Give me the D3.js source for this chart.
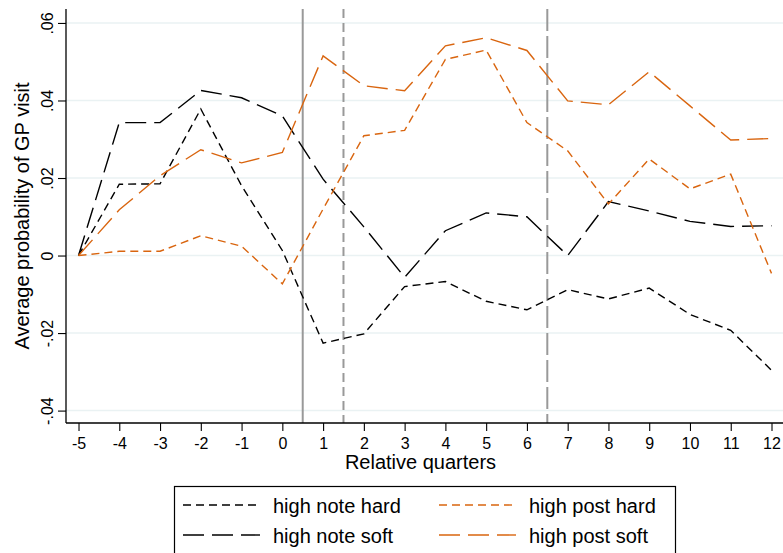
<!DOCTYPE html>
<html>
<head>
<meta charset="utf-8">
<script src="https://cdn.jsdelivr.net/npm/d3@7"></script>
<style>
html,body{margin:0;padding:0;background:#fff;}
svg{display:block;font-family:"Liberation Sans",Arial,Helvetica,sans-serif;}
</style>
</head>
<body>
<svg id="chart" width="783" height="553"></svg>
<script>
// ---- data ----
const quarters = [-5,-4,-3,-2,-1,0,1,2,3,4,5,6,7,8,9,10,11,12];
const highNoteHard = [0,0.0184,0.0185,0.0378,0.0180,0.0013,-0.0226,-0.0202,-0.0080,-0.0067,-0.0118,-0.0140,-0.0088,-0.0112,-0.0084,-0.0152,-0.0193,-0.0296];
const highNoteSoft = [0,0.0343,0.0343,0.0426,0.0407,0.0360,0.0197,0.0074,-0.0056,0.0064,0.0110,0.0100,0.0000,0.0139,0.0115,0.0088,0.0075,0.0077];
const highPostHard = [0,0.0011,0.0011,0.0051,0.0024,-0.0073,0.0120,0.0309,0.0323,0.0506,0.0530,0.0343,0.0270,0.0133,0.0249,0.0172,0.0210,-0.0046];
const highPostSoft = [0,0.0118,0.0206,0.0273,0.0239,0.0266,0.0515,0.0438,0.0425,0.0541,0.0562,0.0529,0.0399,0.0389,0.0474,0.0386,0.0298,0.0302];
const yTicks = [-0.04,-0.02,0,0.02,0.04,0.06];
const yTickLabels = ["-.04","-.02","0",".02",".04",".06"];
const xTicks = quarters;
const xTickLabels = ["-5","-4","-3","-2","-1","0","1","2","3","4","5","6","7","8","9","10","11","12"];
const refLines = [0.5,1.5,6.5];
const seriesNames = ["high note hard","high note soft","high post hard","high post soft"];

// ---- layout ----
const svg = d3.select("#chart");
const L = 66, R = 783, T = 9, B = 423;
const x = d3.scaleLinear().domain([-5.307, 12.282]).range([L, R]);
const y = d3.scaleLinear().domain([-0.0432, 0.0636]).range([B, T]);

const ORANGE = "#d9650f";
const SHORT = "8,5", LONG = "21,8";
const series = [
  {name: seriesNames[0], values: highNoteHard, color: "#000", dash: SHORT},
  {name: seriesNames[1], values: highNoteSoft, color: "#000", dash: LONG},
  {name: seriesNames[2], values: highPostHard, color: ORANGE, dash: SHORT},
  {name: seriesNames[3], values: highPostSoft, color: ORANGE, dash: LONG}
];

// gridlines
svg.append("g").selectAll("line").data(yTicks).join("line")
  .attr("x1", L).attr("x2", R)
  .attr("y1", d => y(d)).attr("y2", d => y(d))
  .attr("stroke", "#eaf2f3").attr("stroke-width", 1.5);

// reference lines
const refStyles = [null, "9,5", "22,5"];
svg.append("g").selectAll("line").data(refLines).join("line")
  .attr("x1", d => x(d)).attr("x2", d => x(d))
  .attr("y1", T).attr("y2", B)
  .attr("stroke", "#999").attr("stroke-width", 2)
  .attr("stroke-dasharray", (d,i) => refStyles[i]);

// series lines
const line = d3.line().x((d,i) => x(quarters[i])).y(d => y(d));
svg.append("g").selectAll("path").data(series).join("path")
  .attr("d", d => line(d.values))
  .attr("fill", "none")
  .attr("stroke", d => d.color)
  .attr("stroke-width", 1.4)
  .attr("stroke-dasharray", d => d.dash);

// y axis
const yAxis = d3.axisLeft(y).tickValues(yTicks).tickSize(8).tickPadding(4)
  .tickFormat((d,i) => yTickLabels[i]);
const gy = svg.append("g").attr("transform", `translate(${L},0)`).call(yAxis);
gy.select(".domain").attr("d", `M0,${T}V${B}`).attr("stroke","#000").attr("stroke-width",1.3);
gy.selectAll(".tick line").attr("stroke","#000").attr("stroke-width",1.1);
gy.selectAll(".tick text")
  .attr("font-size", 16).attr("fill","#000")
  .attr("text-anchor","middle")
  .attr("x", 0).attr("dy", 0)
  .attr("transform", "translate(-13,0) rotate(-90)");

// x axis
const xAxis = d3.axisBottom(x).tickValues(xTicks).tickSize(8).tickPadding(4)
  .tickFormat((d,i) => xTickLabels[i]);
const gx = svg.append("g").attr("transform", `translate(0,${B})`).call(xAxis);
gx.select(".domain").attr("d", `M${L},0H${R}`).attr("stroke","#000").attr("stroke-width",1.3);
gx.selectAll(".tick line").attr("stroke","#000").attr("stroke-width",1.1);
gx.selectAll(".tick text").attr("font-size", 16).attr("fill","#000").attr("dy","0.9em");

// axis titles
svg.append("text").attr("x", (L+R)/2 - 4).attr("y", 469)
  .attr("text-anchor","middle").attr("font-size", 20).attr("fill","#000")
  .text("Relative quarters");
svg.append("text").attr("transform", `translate(29,${(T+B)/2}) rotate(-90)`)
  .attr("text-anchor","middle").attr("font-size", 20).attr("fill","#000")
  .text("Average probability of GP visit");

// legend
const lg = svg.append("g");
lg.append("rect").attr("x", 174.5).attr("y", 486.5).attr("width", 501).attr("height", 80)
  .attr("fill","#fff").attr("stroke","#000").attr("stroke-width",1.2);
const legendPos = [
  {x: 183, y: 505}, {x: 183, y: 535}, {x: 439, y: 505}, {x: 439, y: 535}
];
series.forEach((s, i) => {
  const p = legendPos[i];
  lg.append("line").attr("x1", p.x).attr("x2", p.x + 77).attr("y1", p.y).attr("y2", p.y)
    .attr("stroke", s.color).attr("stroke-width", 1.4).attr("stroke-dasharray", s.dash);
  lg.append("text").attr("x", p.x + 90).attr("y", p.y + 8)
    .attr("font-size", 20).attr("fill","#000").text(s.name);
});
</script>
</body>
</html>
